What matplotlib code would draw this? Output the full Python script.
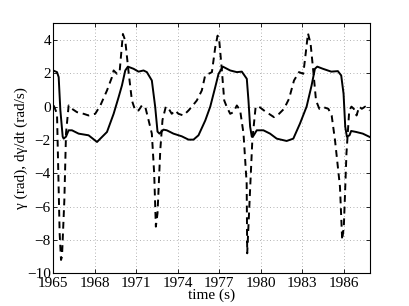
import numpy as np
import matplotlib.pyplot as plt

plt.rcParams['font.family'] = ['Liberation Serif', 'DejaVu Serif']
plt.rcParams['mathtext.fontset'] = 'stix'

# angle gamma (solid line)
t_gamma = [1965.0, 1965.29, 1965.41, 1965.53, 1965.70, 1965.77, 1965.94, 1966.13, 1966.37,
           1966.85, 1967.57, 1968.18, 1968.90, 1969.38, 1969.74, 1969.98, 1970.22, 1970.41,
           1970.82, 1971.18, 1971.54, 1971.78, 1972.14, 1972.38, 1972.55, 1972.69, 1972.98,
           1973.22, 1973.70, 1974.30, 1974.79, 1975.15, 1975.51, 1976.00, 1976.36, 1976.72,
           1976.96, 1977.27, 1977.80, 1978.28, 1978.64, 1979.00, 1979.12, 1979.24, 1979.36,
           1979.48, 1979.72, 1980.20, 1980.68, 1981.16, 1981.88, 1982.36, 1982.84, 1983.32,
           1983.68, 1983.92, 1984.09, 1984.50, 1985.10, 1985.58, 1985.82, 1985.99, 1986.11,
           1986.23, 1986.42, 1986.54, 1986.90, 1987.38, 1987.88]
gamma = [2.17, 2.07, 1.77, -0.2, -1.80, -1.92, -1.80, -1.42, -1.42,
         -1.62, -1.72, -2.12, -1.52, -0.43, 0.57, 1.27, 2.17, 2.40,
         2.27, 2.10, 2.17, 2.07, 1.57, 0.0, -1.50, -1.62, -1.38,
         -1.42, -1.62, -1.78, -1.98, -1.98, -1.72, -0.83, 0.0, 1.17,
         1.97, 2.40, 2.17, 2.07, 2.10, 1.67, 0.37, -1.20, -1.80,
         -1.75, -1.42, -1.42, -1.62, -1.92, -2.06, -1.92, -1.02, 0.0,
         1.27, 2.27, 2.40, 2.27, 2.10, 2.13, 1.87, 0.77, -1.20,
         -1.80, -1.72, -1.46, -1.52, -1.62, -1.82]

# angular velocity dgamma/dt (dashed line)
t_rate = [1965.05, 1965.29, 1965.48, 1965.58, 1965.65, 1965.82, 1965.94, 1966.13, 1966.37,
          1966.73, 1967.21, 1967.57, 1968.05, 1968.42, 1968.90, 1969.26, 1969.38, 1969.62,
          1969.81, 1970.05, 1970.22, 1970.46, 1970.70, 1970.94, 1971.18, 1971.42, 1971.66,
          1971.90, 1972.14, 1972.31, 1972.43, 1972.55, 1972.75, 1972.91, 1973.15, 1973.34,
          1973.58, 1973.82, 1974.06, 1974.42, 1974.79, 1975.03, 1975.39, 1975.75, 1975.99,
          1976.24, 1976.48, 1976.72, 1976.89, 1977.01, 1977.20, 1977.37, 1977.56, 1977.80,
          1978.04, 1978.28, 1978.52, 1978.76, 1978.99, 1979.03, 1979.15, 1979.40, 1979.64,
          1979.88, 1980.24, 1980.60, 1980.96, 1981.33, 1981.69, 1982.05, 1982.41, 1982.77,
          1983.08, 1983.25, 1983.42, 1983.61, 1983.81, 1984.00, 1984.24, 1984.53, 1984.89,
          1985.13, 1985.37, 1985.73, 1985.89, 1986.01, 1986.20, 1986.40, 1986.56, 1986.73,
          1986.93, 1987.12, 1987.31, 1987.55, 1987.88]
rate = [0.07, -0.43, -7.6, -9.2, -9.0, -5.6, -1.6, 0.07, -0.13,
        -0.33, -0.43, -0.53, -0.43, 0.07, 0.97, 1.77, 2.17, 1.97,
        2.07, 4.36, 3.96, 2.07, 0.37, -0.23, -0.23, 0.07, 0.0,
        -0.80, -1.62, -4.02, -7.20, -6.40, -2.60, -0.80, 0.0, -0.10,
        -0.43, -0.23, -0.43, -0.53, -0.23, 0.0, 0.37, 0.97, 1.87,
        1.97, 2.07, 3.56, 4.26, 3.96, 2.17, 0.37, -0.03, -0.43,
        -0.33, 0.07, -0.23, -1.60, -4.60, -8.80, -6.60, -2.00, 0.0,
        0.0, -0.23, -0.43, -0.63, -0.43, -0.13, 0.47, 1.57, 2.07,
        1.97, 3.16, 4.40, 3.76, 2.07, 0.37, -0.13, -0.03, -0.13,
        -0.53, -2.00, -4.80, -8.00, -7.20, -2.80, -0.23, 0.0, -0.13,
        -0.53, 0.0, -0.13, 0.0, -0.23]

xticks = [1965, 1968, 1971, 1974, 1977, 1980, 1983, 1986]
yticks = [-10, -8, -6, -4, -2, 0, 2, 4]

fig = plt.figure(figsize=(4.09, 3.06), dpi=100)
ax = fig.add_axes([53/409, 1 - 273.3/306, 317/409, 250/306])

ax.plot(t_gamma, gamma, color='black', linewidth=1.4, linestyle='-')
ax.plot(t_rate, rate, color='black', linewidth=1.4, linestyle=(0, (3.5, 2.5)))

ax.set_xlim(1965, 1987.9)
ax.set_ylim(-10, 5)
ax.set_xticks(xticks)
ax.set_yticks(yticks)
ax.set_yticklabels([str(v).replace('-', '\u2212') for v in yticks])
ax.tick_params(direction='in', length=3, width=0.6, labelsize=11, top=True, right=True, pad=1.5)
ax.tick_params(axis='x', pad=2.5)
ax.grid(True, linestyle=(0, (1, 3)), color='#999999', linewidth=0.6)
for s in ax.spines.values():
    s.set_linewidth(0.8)

ax.set_xlabel('time (s)', fontsize=11, labelpad=-1)
ax.set_ylabel('\u03b3 (rad), d\u03b3/dt (rad/s)', fontsize=11, labelpad=-1)

plt.savefig('out.png', dpi=100)
